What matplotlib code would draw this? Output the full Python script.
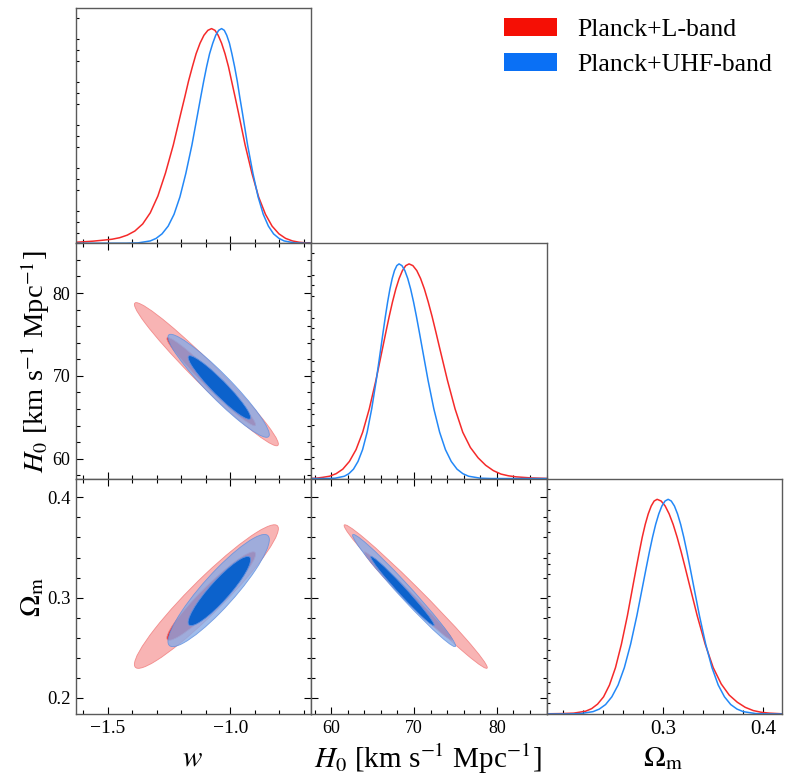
import numpy as np
import matplotlib
matplotlib.use("Agg")
import matplotlib.pyplot as plt
from matplotlib.patches import Ellipse, Patch
from matplotlib.ticker import MultipleLocator, FixedLocator, FixedFormatter, NullFormatter

plt.rcParams['font.family'] = ['Liberation Serif', 'DejaVu Serif']
plt.rcParams['mathtext.fontset'] = 'stix'

# ---------------- data ----------------
series_names = ['Planck+L-band', 'Planck+UHF-band']
param_labels = [r'$w$', r'$H_0$ [km s$^{-1}$ Mpc$^{-1}$]', r'$\Omega_{\rm m}$']
param_ranges = [(-1.63, -0.67), (57.6, 86.0), (0.1837, 0.4187)]

# tick positions / labels
w_ticks = [-1.5, -1.0]
w_ticklabels = ['\u22121.5', '\u22121.0']
H0_ticks = [60, 70, 80]
H0_ticklabels = ['60', '70', '80']
Om_ticks_y = [0.2, 0.3, 0.4]
Om_ticklabels_y = ['0.2', '0.3', '0.4']
Om_ticks_x = [0.3, 0.4]
Om_ticklabels_x = ['0.3', '0.4']
minor_steps = [0.1, 2.0, 0.02]

# 1D marginal densities (normalised to peak = 1)
w_red_x = [-1.630, -1.600, -1.560, -1.515, -1.483, -1.452, -1.421, -1.390, -1.358, -1.327,
           -1.296, -1.265, -1.233, -1.202, -1.186, -1.171, -1.155, -1.140, -1.124, -1.108,
           -1.092, -1.077, -1.063, -1.050, -1.036, -1.022, -1.008, -0.995, -0.981, -0.967,
           -0.940, -0.912, -0.885, -0.857, -0.830, -0.802, -0.775, -0.747, -0.720, -0.692,
           -0.670]
w_red_y = [0.005, 0.007, 0.010, 0.015, 0.019, 0.026, 0.038, 0.057, 0.090, 0.142,
           0.220, 0.327, 0.458, 0.607, 0.682, 0.755, 0.823, 0.883, 0.932, 0.969,
           0.992, 1.000, 0.992, 0.969, 0.932, 0.883, 0.823, 0.755, 0.682, 0.607,
           0.458, 0.325, 0.216, 0.135, 0.080, 0.044, 0.023, 0.011, 0.005, 0.002,
           0.001]
w_blue_x = [-1.630, -1.424, -1.376, -1.327, -1.303, -1.279, -1.254, -1.230, -1.206, -1.182,
            -1.157, -1.133, -1.121, -1.109, -1.097, -1.085, -1.072, -1.060, -1.048, -1.036,
            -1.025, -1.015, -1.004, -0.994, -0.983, -0.972, -0.962, -0.951, -0.930, -0.908,
            -0.887, -0.866, -0.845, -0.824, -0.802, -0.781, -0.738, -0.696, -0.670]
w_blue_y = [0.0, 0.0003, 0.002, 0.011, 0.023, 0.044, 0.080, 0.135, 0.216, 0.325,
            0.458, 0.607, 0.682, 0.755, 0.823, 0.883, 0.932, 0.969, 0.992, 1.000,
            0.992, 0.969, 0.932, 0.883, 0.823, 0.755, 0.682, 0.607, 0.458, 0.325,
            0.216, 0.135, 0.080, 0.044, 0.023, 0.011, 0.002, 0.0003, 0.0]

H0_red_x = [57.6, 58.20, 59.00, 59.80, 60.60, 61.40, 62.20, 63.00, 63.80, 64.60,
            65.40, 66.20, 66.60, 67.00, 67.40, 67.80, 68.20, 68.60, 69.00, 69.40,
            69.86, 70.33, 70.79, 71.25, 71.71, 72.18, 72.64, 73.10, 74.03, 74.95,
            75.88, 76.80, 77.73, 78.65, 79.58, 80.50, 81.40, 82.35, 84.20, 86.0]
H0_red_y = [0.001, 0.002, 0.006, 0.011, 0.023, 0.044, 0.080, 0.135, 0.216, 0.325,
            0.458, 0.607, 0.682, 0.755, 0.823, 0.883, 0.932, 0.969, 0.992, 1.000,
            0.992, 0.969, 0.932, 0.883, 0.823, 0.755, 0.682, 0.607, 0.458, 0.325,
            0.216, 0.145, 0.097, 0.062, 0.037, 0.021, 0.013, 0.008, 0.003, 0.001]
H0_blue_x = [57.6, 59.39, 60.49, 61.59, 62.14, 62.69, 63.24, 63.79, 64.34, 64.89,
             65.44, 65.99, 66.265, 66.54, 66.815, 67.09, 67.365, 67.64, 67.92, 68.19,
             68.54, 68.89, 69.24, 69.59, 69.94, 70.29, 70.64, 70.99, 71.69, 72.39,
             73.09, 73.79, 74.49, 75.19, 75.89, 76.59, 77.99, 79.39, 86.0]
H0_blue_y = [0.0, 0.0003, 0.002, 0.011, 0.023, 0.044, 0.080, 0.135, 0.216, 0.325,
             0.458, 0.607, 0.682, 0.755, 0.823, 0.883, 0.932, 0.969, 0.992, 1.000,
             0.992, 0.969, 0.932, 0.883, 0.823, 0.755, 0.682, 0.607, 0.458, 0.325,
             0.216, 0.135, 0.080, 0.044, 0.023, 0.011, 0.002, 0.0003, 0.0]

Om_red_x = [0.1837, 0.1988, 0.2107, 0.2226, 0.2286, 0.2345, 0.2405, 0.2464, 0.2524, 0.2583,
            0.2643, 0.2702, 0.2732, 0.2762, 0.2791, 0.2821, 0.2851, 0.2881, 0.2910, 0.2940,
            0.2980, 0.3020, 0.3060, 0.3100, 0.3140, 0.3180, 0.3220, 0.3260, 0.3340, 0.3420,
            0.3500, 0.3580, 0.3660, 0.3740, 0.3820, 0.3900, 0.3980, 0.4060, 0.4187]
Om_red_y = [0.001, 0.002, 0.004, 0.013, 0.025, 0.046, 0.080, 0.135, 0.216, 0.325,
            0.458, 0.607, 0.682, 0.755, 0.823, 0.883, 0.932, 0.969, 0.992, 1.000,
            0.992, 0.969, 0.932, 0.883, 0.823, 0.755, 0.682, 0.607, 0.458, 0.325,
            0.216, 0.140, 0.088, 0.055, 0.031, 0.016, 0.008, 0.004, 0.001]
Om_blue_x = [0.1837, 0.2050, 0.2175, 0.2300, 0.23625, 0.2425, 0.24875, 0.2550, 0.26125, 0.2675,
             0.27375, 0.2800, 0.28313, 0.28625, 0.28938, 0.2925, 0.29563, 0.29875, 0.3019, 0.3050,
             0.3081, 0.31125, 0.31438, 0.3175, 0.32063, 0.32375, 0.32688, 0.3300, 0.33625, 0.3425,
             0.34875, 0.3550, 0.36125, 0.3675, 0.37375, 0.3800, 0.3925, 0.4050, 0.4187]
Om_blue_y = [0.0, 0.0003, 0.002, 0.011, 0.023, 0.044, 0.080, 0.135, 0.216, 0.325,
             0.458, 0.607, 0.682, 0.755, 0.823, 0.883, 0.932, 0.969, 0.992, 1.000,
             0.992, 0.969, 0.932, 0.883, 0.823, 0.755, 0.682, 0.607, 0.458, 0.325,
             0.216, 0.135, 0.080, 0.044, 0.023, 0.011, 0.002, 0.0003, 0.0]

# 2D posterior summaries (w, H0, Omega_m): outer (95%) and core (68%) regions
red_mean = [-1.098, 70.2, 0.301]
red_core_mean = [-1.078, 69.3, 0.3015]
red_sigma = [0.120, 3.53, 0.0293]
red_corr = [-0.975, 0.945, -0.989]     # (w,H0), (w,Om), (H0,Om)
blue_mean = [-1.048, 68.8, 0.307]
blue_core_mean = [-1.045, 68.6, 0.3065]
blue_sigma = [0.0845, 2.54, 0.0229]
blue_corr = [-0.945, 0.905, -0.985]
contour_levels = [0.68, 0.95]

# ---------------- style ----------------
red_line = '#f52a2a'
blue_line = '#2388f7'
red_patch = '#f50f05'
blue_patch = '#0a70f5'
red_fill = ['#e8242a', '#f7a1a1']      # inner, outer
blue_fill = ['#0c62cc', '#89abe6']
fill_alpha = [1.0, 0.8]                # blue outer is see-through
spine_col = '#5a5a5a'

fig = plt.figure(figsize=(7.88, 7.75), dpi=100)
W, H = 788.0, 775.0
col_left = [76.0, 311.3, 546.7]
row_top = [8.0, 243.3, 478.7]
size = 235.3

axes = {}
for i in range(3):
    for j in range(i + 1):
        rect = [col_left[j] / W, 1 - (row_top[i] + size) / H, size / W, size / H]
        axes[(i, j)] = fig.add_axes(rect)


def style_axis(ax, two_d):
    for sp in ax.spines.values():
        sp.set_color(spine_col)
        sp.set_linewidth(1.0)
    ax.tick_params(which='both', direction='in', color='black', width=0.8,
                   top=two_d, right=two_d)
    ax.tick_params(which='major', length=5, pad=4)
    ax.tick_params(which='minor', length=3.2)


def set_x(ax, p, labels):
    ax.set_xlim(*param_ranges[p])
    if p == 0:
        ax.xaxis.set_major_locator(FixedLocator(w_ticks))
        ax.xaxis.set_major_formatter(FixedFormatter(w_ticklabels))
    elif p == 1:
        ax.xaxis.set_major_locator(FixedLocator(H0_ticks))
        ax.xaxis.set_major_formatter(FixedFormatter(H0_ticklabels))
    else:
        ax.xaxis.set_major_locator(FixedLocator(Om_ticks_x))
        ax.xaxis.set_major_formatter(FixedFormatter(Om_ticklabels_x))
    ax.xaxis.set_minor_locator(MultipleLocator(minor_steps[p]))
    if not labels:
        ax.xaxis.set_major_formatter(NullFormatter())


def set_y(ax, p, labels):
    ax.set_ylim(*param_ranges[p])
    if p == 1:
        ax.yaxis.set_major_locator(FixedLocator(H0_ticks))
        ax.yaxis.set_major_formatter(FixedFormatter(H0_ticklabels))
    else:
        ax.yaxis.set_major_locator(FixedLocator(Om_ticks_y))
        ax.yaxis.set_major_formatter(FixedFormatter(Om_ticklabels_y))
    ax.yaxis.set_minor_locator(MultipleLocator(minor_steps[p]))
    if not labels:
        ax.yaxis.set_major_formatter(NullFormatter())


# 1D panels
one_d = [(w_red_x, w_red_y, w_blue_x, w_blue_y),
         (H0_red_x, H0_red_y, H0_blue_x, H0_blue_y),
         (Om_red_x, Om_red_y, Om_blue_x, Om_blue_y)]
for p in range(3):
    ax = axes[(p, p)]
    rx, ry, bx, by = one_d[p]
    ax.plot(rx, ry, color=red_line, lw=1.1, solid_joinstyle='round')
    ax.plot(bx, by, color=blue_line, lw=1.1, solid_joinstyle='round')
    style_axis(ax, False)
    set_x(ax, p, p == 2)
    ax.set_ylim(0, 1.096)
    ax.yaxis.set_major_locator(MultipleLocator(0.2))
    ax.yaxis.set_minor_locator(MultipleLocator(0.05))
    ax.yaxis.set_major_formatter(NullFormatter())
    ax.tick_params(axis='y', which='major', length=0)
    ax.tick_params(axis='y', which='minor', length=2.5)

# 2D panels
pair_index = {(0, 1): 0, (0, 2): 1, (1, 2): 2}


def draw_contours(ax, px, py, means, sigma, corr, fills, edge):
    r = corr[pair_index[(px, py)]]
    sx, sy = sigma[px], sigma[py]
    cov = np.array([[sx * sx, r * sx * sy], [r * sx * sy, sy * sy]])
    vals, vecs = np.linalg.eigh(cov)
    ang = np.degrees(np.arctan2(vecs[1, 1], vecs[0, 1]))
    # outer (95%) first, then core (68%)
    for lev, mean, fc, a in zip(contour_levels[::-1], means[::-1], fills[::-1], fill_alpha[::-1]):
        k = np.sqrt(-2 * np.log(1 - lev))
        e = Ellipse((mean[px], mean[py]), 2 * k * np.sqrt(vals[1]), 2 * k * np.sqrt(vals[0]),
                    angle=ang, facecolor=fc, edgecolor=edge, lw=0.6, alpha=a)
        ax.add_patch(e)


for i in range(1, 3):
    for j in range(i):
        ax = axes[(i, j)]
        draw_contours(ax, j, i, [red_core_mean, red_mean], red_sigma, red_corr,
                      red_fill, '#f07a7a')
        draw_contours(ax, j, i, [blue_core_mean, blue_mean], blue_sigma, blue_corr,
                      blue_fill, '#5d8fe0')
        style_axis(ax, True)
        set_x(ax, j, i == 2)
        set_y(ax, i, j == 0)

# tick label sizes
for (i, j), ax in axes.items():
    ax.tick_params(axis='x', labelsize=14 if j != 1 else 13)
    ax.tick_params(axis='y', labelsize=13.5 if i == 2 else 13)
axes[(2, 2)].tick_params(axis='x', labelsize=15)

# axis labels
label_size = 21
for j in range(3):
    ax = axes[(2, j)]
    ax.set_xlabel(param_labels[j], fontsize=label_size, va='center')
    ax.xaxis.set_label_coords(0.495, -0.19)
for i in (1, 2):
    ax = axes[(i, 0)]
    ax.set_ylabel(param_labels[i], fontsize=20.5 if i == 1 else label_size, va='center')
    ax.yaxis.set_label_coords(-0.175 if i == 1 else -0.185, 0.495)

# legend
handles = [Patch(facecolor=red_patch, edgecolor='none'),
           Patch(facecolor=blue_patch, edgecolor='none')]
fig.legend(handles, series_names, loc='upper left', bbox_to_anchor=(504 / W, 1 - 17.5 / H),
           frameon=False, fontsize=18.5, handlelength=2.07, handleheight=0.72,
           handletextpad=0.78, labelspacing=0.48, borderpad=0, borderaxespad=0)

fig.savefig('out.png', dpi=100)
